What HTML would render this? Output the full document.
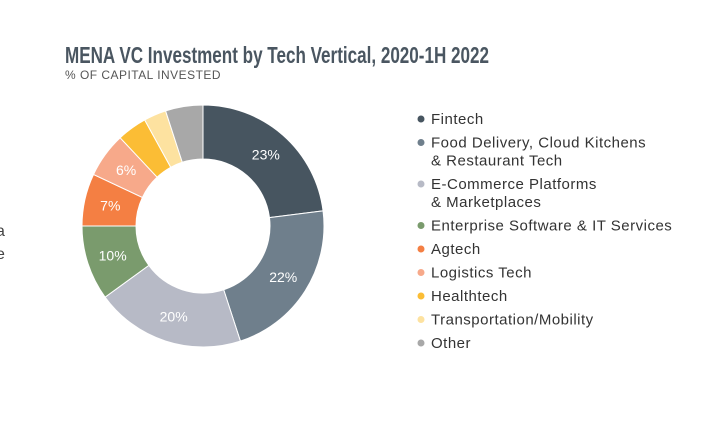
<!DOCTYPE html>
<html><head><meta charset="utf-8"><style>
body{margin:0;background:#fff;width:719px;height:418px;overflow:hidden;font-family:"Liberation Sans",sans-serif}
</style></head><body>
<svg width="719" height="418" xmlns="http://www.w3.org/2000/svg">
<text x="65" y="63" font-family="Liberation Sans Narrow, Liberation Sans, sans-serif" font-weight="bold" font-size="23" fill="#4a5661" textLength="424" lengthAdjust="spacingAndGlyphs">MENA VC Investment by Tech Vertical, 2020-1H 2022</text>
<text x="65" y="79" font-size="12" fill="#555" textLength="156" lengthAdjust="spacingAndGlyphs" letter-spacing="0.5">% OF CAPITAL INVESTED</text>
<text x="-4" y="236" font-size="16" fill="#444">a</text>
<text x="-4" y="259" font-size="16" fill="#444">e</text>
<g id="donut"></g>
<g id="legend"></g>
</svg>
<script>
const categories=["Fintech","Food Delivery, Cloud Kitchens|& Restaurant Tech","E-Commerce Platforms|& Marketplaces","Enterprise Software & IT Services","Agtech","Logistics Tech","Healthtech","Transportation/Mobility","Other"];
const values=[23,22,20,10,7,6,4,3,5];
const colors=["#475560","#6f7f8c","#b7bac6","#7a9b6d","#f47f43","#f7a98a","#fbbd35","#fde2a0","#a8a8a8"];
const NS="http://www.w3.org/2000/svg";
const cx=203,cy=226,R=121,r=67;
const total=values.reduce((a,b)=>a+b,0);
const g=document.getElementById('donut');
let acc=0;
function pt(a,rad){return [cx+rad*Math.sin(a),cy-rad*Math.cos(a)];}
values.forEach((v,i)=>{
  const a0=acc/total*2*Math.PI;acc+=v;const a1=acc/total*2*Math.PI;
  const large=a1-a0>Math.PI?1:0;
  const [x0,y0]=pt(a0,R),[x1,y1]=pt(a1,R),[x2,y2]=pt(a1,r),[x3,y3]=pt(a0,r);
  const p=document.createElementNS(NS,'path');
  p.setAttribute('d',`M${x0},${y0}A${R},${R} 0 ${large} 1 ${x1},${y1}L${x2},${y2}A${r},${r} 0 ${large} 0 ${x3},${y3}Z`);
  p.setAttribute('fill',colors[i]);p.setAttribute('stroke','#fff');p.setAttribute('stroke-width','1');
  
  
  g.appendChild(p);
  if(v>=6){
    const [lx,ly]=pt((a0+a1)/2,95);
    const t=document.createElementNS(NS,'text');
    t.setAttribute('x',lx);t.setAttribute('y',ly+5);t.setAttribute('text-anchor','middle');
    t.setAttribute('font-size','14');t.setAttribute('fill','#fff');
    t.textContent=v+'%';
    
    
    g.appendChild(t);
  }
});
const lg=document.getElementById('legend');
let y=119;
categories.forEach((c,i)=>{
  const lines=c.split('|');
  const ci=document.createElementNS(NS,'circle');
  ci.setAttribute('cx',421);ci.setAttribute('cy',y);ci.setAttribute('r',3.5);ci.setAttribute('fill',colors[i]);
  
  
  lg.appendChild(ci);
  lines.forEach((l,j)=>{
    const t=document.createElementNS(NS,'text');
    t.setAttribute('x',431);t.setAttribute('y',y+5+j*18);t.setAttribute('font-size','15');t.setAttribute('fill','#333');
    t.setAttribute('letter-spacing','0.5');
    t.textContent=l;
    
    
    lg.appendChild(t);
  });
  y+=23.5+(lines.length-1)*18;
});
</script>
</body></html>
